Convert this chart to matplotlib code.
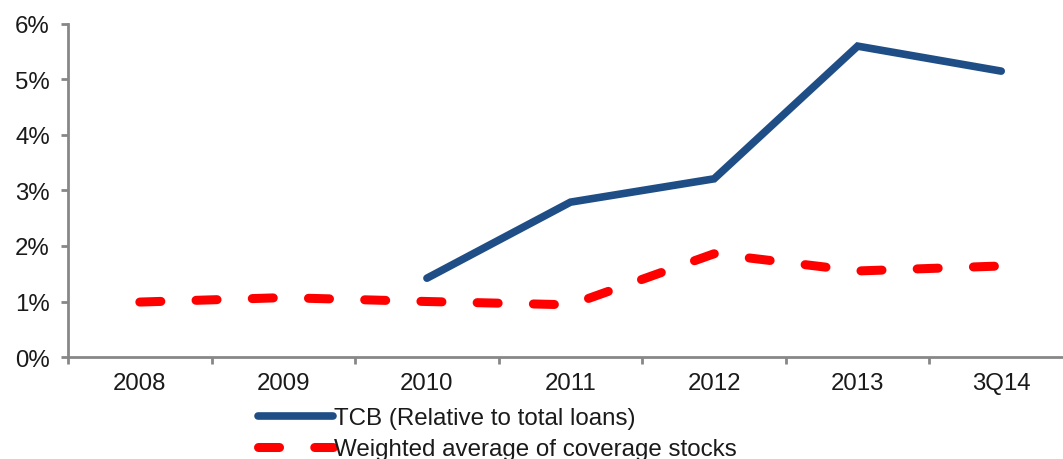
import matplotlib
matplotlib.use("Agg")
import matplotlib.pyplot as plt
from matplotlib.ticker import FuncFormatter

plt.rcParams['font.family'] = ['Liberation Sans', 'DejaVu Sans']

categories = ["2008", "2009", "2010", "2011", "2012", "2013", "3Q14"]
tcb_values = [None, None, 1.42, 2.79, 3.21, 5.60, 5.15]
coverage_avg = [0.99, 1.07, 1.00, 0.94, 1.86, 1.55, 1.64]
y_ticks = [0, 1, 2, 3, 4, 5, 6]

fig = plt.figure(figsize=(10.63, 4.60), dpi=100)
ax = fig.add_axes([0.064, 0.2217, 0.9454, 0.7241])

x = list(range(len(categories)))
tcb_x = [i for i, v in zip(x, tcb_values) if v is not None]
tcb_y = [v for v in tcb_values if v is not None]

blue = "#1F4E87"
red = "#FF0000"
ax.plot(tcb_x, tcb_y, color=blue, lw=5.5, solid_capstyle="round",
        solid_joinstyle="miter", label="TCB (Relative to total loans)")
red_line, = ax.plot(x, coverage_avg, color=red, lw=6.5, dash_capstyle="round",
                    label="Weighted average of coverage stocks")
red_line.set_dashes((2.33, 3.9))

ax.set_xlim(-0.5, 6.5)
ax.set_ylim(0, 6)
ax.set_xticks(x)
ax.set_xticklabels(categories)
ax.set_xticks([i + 0.5 for i in range(-1, 7)], minor=True)
ax.set_yticks(y_ticks)
ax.yaxis.set_major_formatter(FuncFormatter(lambda v, p: f"{v:.0f}%"))

for side in ("top", "right"):
    ax.spines[side].set_visible(False)
for side in ("left", "bottom"):
    ax.spines[side].set_color("#878787")
    ax.spines[side].set_linewidth(2.0)

ax.tick_params(axis="x", which="major", length=0, pad=11, labelsize=17.3, colors="#1a1a1a")
ax.tick_params(axis="x", which="minor", length=5, width=2, color="#878787", direction="out")
ax.tick_params(axis="y", which="major", length=5, width=2, color="#878787", direction="out",
               pad=8, labelsize=17.3, labelcolor="#1a1a1a")

leg = fig.legend(loc="upper left", bbox_to_anchor=(0.2427, 0.113), frameon=False,
                 fontsize=17.4, handlelength=3.1, handletextpad=0.05,
                 labelspacing=0.38, borderpad=0, borderaxespad=0)
for t in leg.get_texts():
    t.set_color("#1a1a1a")

fig.savefig("out.png", dpi=100)
